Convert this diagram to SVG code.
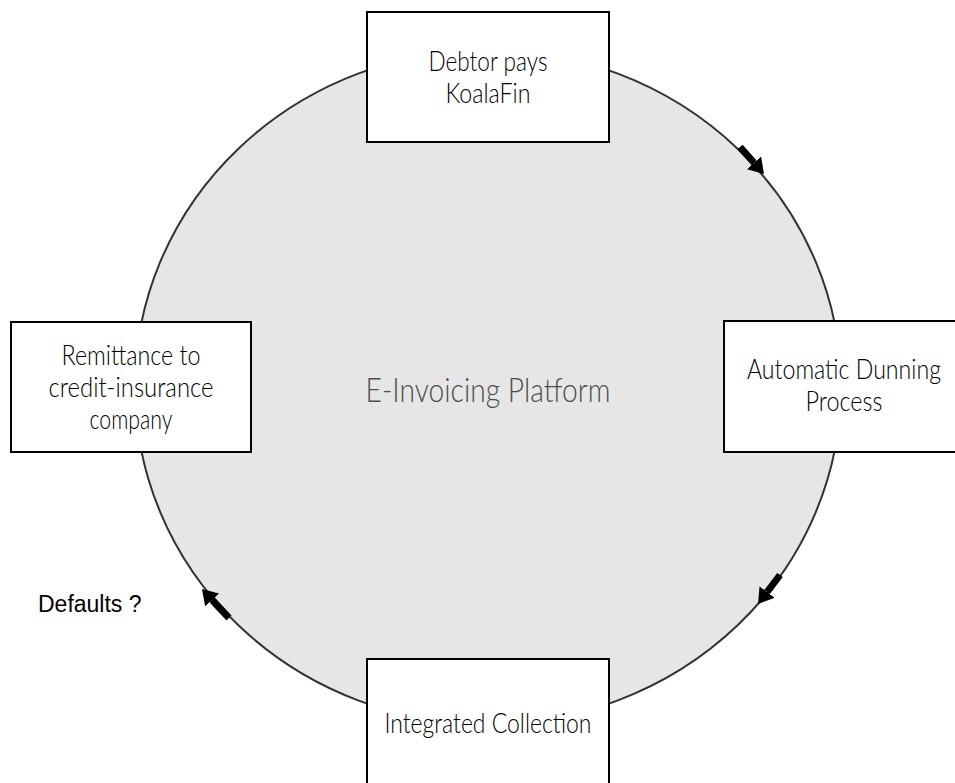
<svg xmlns="http://www.w3.org/2000/svg" width="955" height="783" viewBox="0 0 955 783">
<style>
.box{fill:#ffffff;stroke:#000000;stroke-width:2}
.lbl{font-family:Lato,"Open Sans","DejaVu Sans",sans-serif;font-weight:300;font-size:27px;fill:#000000;text-anchor:middle}
.arr{stroke:#000000;stroke-width:7;fill:none}
</style>
<defs>
<marker id="head" markerUnits="userSpaceOnUse" markerWidth="15" markerHeight="19" viewBox="0 0 15 19" refX="0" refY="9.5" orient="auto">
<path d="M0,0 L15,9.5 L0,19 z" fill="#000000"/>
</marker>
</defs>
<rect width="955" height="783" fill="#ffffff"/>
<g id="platform">
<ellipse cx="488" cy="387" rx="353" ry="337" fill="#e6e6e6" stroke="#333333" stroke-width="2"/>
<text x="488" y="402" font-family="Lato,'Open Sans',sans-serif" font-weight="300" font-size="34" fill="#4d4d4d" text-anchor="middle" textLength="245" lengthAdjust="spacingAndGlyphs">E-Invoicing Platform</text>
</g>
<g id="connectors">
<line class="arr" x1="740" y1="147" x2="754" y2="162.8" marker-end="url(#head)"/>
<line class="arr" x1="780" y1="575" x2="767.1" y2="592" marker-end="url(#head)"/>
<line class="arr" x1="229" y1="618" x2="212.2" y2="600" marker-end="url(#head)"/>
</g>
<g id="debtor">
<rect class="box" x="367" y="12" width="242" height="130"/>
<text class="lbl" x="488" y="71" textLength="119" lengthAdjust="spacingAndGlyphs">Debtor pays</text>
<text class="lbl" x="488" y="103" textLength="85" lengthAdjust="spacingAndGlyphs">KoalaFin</text>
</g>
<g id="dunning">
<rect class="box" x="724" y="321" width="233" height="131"/>
<text class="lbl" x="844" y="379" textLength="194" lengthAdjust="spacingAndGlyphs">Automatic Dunning</text>
<text class="lbl" x="844" y="411" textLength="77" lengthAdjust="spacingAndGlyphs">Process</text>
</g>
<g id="collection">
<rect class="box" x="367" y="659" width="242" height="130"/>
<text class="lbl" x="488" y="733" textLength="207" lengthAdjust="spacingAndGlyphs">Integrated Collection</text>
</g>
<g id="remittance">
<rect class="box" x="11" y="322" width="240" height="130"/>
<text class="lbl" x="131" y="365" textLength="139" lengthAdjust="spacingAndGlyphs">Remittance to</text>
<text class="lbl" x="131" y="397" textLength="165" lengthAdjust="spacingAndGlyphs">credit-insurance</text>
<text class="lbl" x="131" y="429" textLength="83" lengthAdjust="spacingAndGlyphs">company</text>
</g>
<g id="defaults">
<text x="38" y="612" font-family="'Liberation Sans',Arial,sans-serif" font-size="23" fill="#000000">Defaults ?</text>
</g>
</svg>
